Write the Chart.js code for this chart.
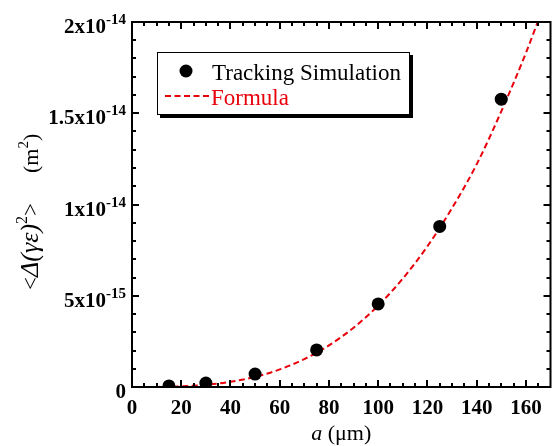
<!DOCTYPE html>
<html>
<head>
<meta charset="utf-8">
<script src="https://cdn.jsdelivr.net/npm/chart.js@4"></script>
<style>
  html, body { margin: 0; padding: 0; background: #fff; }
  #wrap { width: 557px; height: 446px; }
</style>
</head>
<body>
<div id="wrap"><canvas id="chartBig1" width="557" height="446"></canvas></div>
<script>
// tracking results, a in um
var simA = [15, 30, 50, 75, 100, 125, 150];
var simValues = [0.6e-16, 2.2e-16, 7.1e-16, 2.03e-15, 4.55e-15, 8.8e-15, 1.577e-14];

// analytic curve, sampled
var formulaA = [5, 10, 20, 30, 40, 50, 60, 70, 80, 90, 100, 110, 120, 130, 140, 150, 160, 170];
var formulaValues = [0.6e-18, 4.5e-18, 3.6e-17, 1.2e-16, 2.85e-16, 5.58e-16, 9.63e-16, 1.53e-15, 2.28e-15,
                     3.25e-15, 4.46e-15, 5.94e-15, 7.71e-15, 9.8e-15, 1.22e-14, 1.51e-14, 1.83e-14, 2.19e-14];

// axis ticks
var xTicks = [0, 20, 40, 60, 80, 100, 120, 140, 160];
var yTicks = [0, 5e-15, 1e-14, 1.5e-14, 2e-14];
var yTickBase = ['0', '5x10', '1x10', '1.5x10', '2x10'];
var yTickExp = ['', '-15', '-14', '-14', '-14'];

var RED = '#e8000b';
var SERIF = '"Liberation Serif", "Times New Roman", serif';

// y title pieces: text, font, raise, start (null = follow previous piece)
var yTitle = [
  ['<', '23px', 0, 0],
  ['\u0394(\u03b3\u03b5)', 'italic 26px', 0, null],
  ['2', '16px', -11, null],
  ['>', '23px', 0, null],
  ['(m', '22px', 0, 117],
  ['2', '15px', -10, null],
  [')', '22px', 0, null]
];

function pairs(xs, ys) {
  return xs.map(function (x, i) { return { x: x, y: ys[i] }; });
}

// frame, inward ticks, tick labels, titles and legend
var axesPlugin = {
  id: 'axesPlugin',
  afterDraw: function (chart) {
    var ctx = chart.ctx;
    var area = chart.chartArea;
    var xs = chart.scales.x, ys = chart.scales.y;
    ctx.save();
    ctx.strokeStyle = '#000';
    ctx.lineWidth = 2;

    // minor ticks
    ctx.beginPath();
    for (var v = 5; v < 170; v += 5) {
      if (v % 20 === 0) continue;
      var px = Math.round(xs.getPixelForValue(v));
      ctx.moveTo(px, area.bottom); ctx.lineTo(px, area.bottom - 4);
      ctx.moveTo(px, area.top); ctx.lineTo(px, area.top + 4);
    }
    for (var k = 1; k < 20; k++) {
      if (k % 5 === 0) continue;
      var py = Math.round(ys.getPixelForValue(k * 1e-15));
      ctx.moveTo(area.left, py); ctx.lineTo(area.left + 4, py);
      ctx.moveTo(area.right, py); ctx.lineTo(area.right - 4, py);
    }
    ctx.stroke();

    // major ticks
    ctx.beginPath();
    xTicks.forEach(function (t) {
      var px = Math.round(xs.getPixelForValue(t));
      ctx.moveTo(px, area.bottom); ctx.lineTo(px, area.bottom - 7);
      ctx.moveTo(px, area.top); ctx.lineTo(px, area.top + 7);
    });
    yTicks.forEach(function (t) {
      var py = Math.round(ys.getPixelForValue(t));
      ctx.moveTo(area.left, py); ctx.lineTo(area.left + 7, py);
      ctx.moveTo(area.right, py); ctx.lineTo(area.right - 7, py);
    });
    ctx.stroke();

    // frame
    ctx.strokeRect(area.left, area.top, area.right - area.left, area.bottom - area.top);

    // x tick labels
    ctx.fillStyle = '#000';
    ctx.font = 'bold 21px ' + SERIF;
    ctx.textAlign = 'center';
    ctx.textBaseline = 'alphabetic';
    xTicks.forEach(function (t) {
      ctx.fillText(String(t), xs.getPixelForValue(t), area.bottom + 27);
    });

    // y tick labels with exponents
    var right = area.left - 6;
    yTicks.forEach(function (t, i) {
      var py = ys.getPixelForValue(t);
      ctx.font = 'bold 15px ' + SERIF;
      var ew = yTickExp[i] ? ctx.measureText(yTickExp[i]).width : 0;
      ctx.textAlign = 'left';
      if (ew) ctx.fillText(yTickExp[i], right - ew, py + 2);
      ctx.font = 'bold 21px ' + SERIF;
      ctx.textAlign = 'right';
      ctx.fillText(yTickBase[i], right - ew, py + 11);
    });

    // x title
    ctx.font = 'italic 22px ' + SERIF;
    var wa = ctx.measureText('a').width;
    ctx.font = '22px ' + SERIF;
    var wr = ctx.measureText(' (\u03bcm)').width;
    var cx = (area.left + area.right) / 2 - (wa + wr) / 2;
    ctx.textAlign = 'left';
    ctx.font = 'italic 22px ' + SERIF;
    ctx.fillText('a', cx, 440);
    ctx.font = '22px ' + SERIF;
    ctx.fillText(' (\u03bcm)', cx + wa, 440);

    // y title, rotated
    ctx.translate(38, 290);
    ctx.rotate(-Math.PI / 2);
    var pos = 0;
    yTitle.forEach(function (p) {
      ctx.font = p[1] + ' ' + SERIF;
      if (p[3] !== null) pos = p[3];
      ctx.fillText(p[0], pos, p[2]);
      pos += ctx.measureText(p[0]).width;
    });
    ctx.setTransform(1, 0, 0, 1, 0, 0);

    // legend box with drop shadow
    var bx = 157, by = 52, bw = 253, bh = 63;
    ctx.fillStyle = '#000';
    ctx.fillRect(bx + 3, by + 3, bw, bh);
    ctx.fillStyle = '#fff';
    ctx.fillRect(bx, by, bw, bh);
    ctx.lineWidth = 1;
    ctx.strokeStyle = '#000';
    ctx.strokeRect(bx + 0.5, by + 0.5, bw - 1, bh - 1);

    var sim = chart.data.datasets[0], form = chart.data.datasets[1];
    ctx.fillStyle = sim.pointBackgroundColor;
    ctx.beginPath();
    ctx.arc(186, 71, sim.pointRadius, 0, Math.PI * 2);
    ctx.fill();
    ctx.font = '23px ' + SERIF;
    ctx.textAlign = 'left';
    ctx.fillText(sim.label, 212, 80);

    ctx.strokeStyle = form.borderColor;
    ctx.lineWidth = form.borderWidth;
    ctx.setLineDash(form.borderDash);
    ctx.beginPath();
    ctx.moveTo(165, 96); ctx.lineTo(209, 96);
    ctx.stroke();
    ctx.setLineDash([]);
    ctx.fillStyle = form.borderColor;
    ctx.fillText(form.label, 211, 105);

    ctx.restore();
  }
};

var ctx = document.getElementById('chartBig1').getContext('2d');
var config = {
  type: 'scatter',
  data: {
    datasets: [{
      label: 'Tracking Simulation',
      data: pairs(simA, simValues),
      pointBackgroundColor: '#000',
      pointBorderColor: '#000',
      pointBorderWidth: 0,
      pointRadius: 6.5,
      showLine: false
    }, {
      label: 'Formula',
      data: pairs(formulaA, formulaValues),
      showLine: true,
      borderColor: RED,
      borderWidth: 2,
      borderDash: [6, 3.5],
      pointRadius: 0,
      cubicInterpolationMode: 'monotone',
      fill: false
    }]
  },
  options: {
    responsive: false,
    animation: false,
    layout: { padding: { left: 132, top: 22, right: 2, bottom: 59 } },
    plugins: { legend: { display: false }, tooltip: { enabled: false } },
    scales: {
      x: { type: 'linear', min: 0, max: 170, display: false },
      y: { type: 'linear', min: 0, max: 2e-14, display: false }
    }
  },
  plugins: [axesPlugin]
};
var myChartData = new Chart(ctx, config);
</script>
</body>
</html>
